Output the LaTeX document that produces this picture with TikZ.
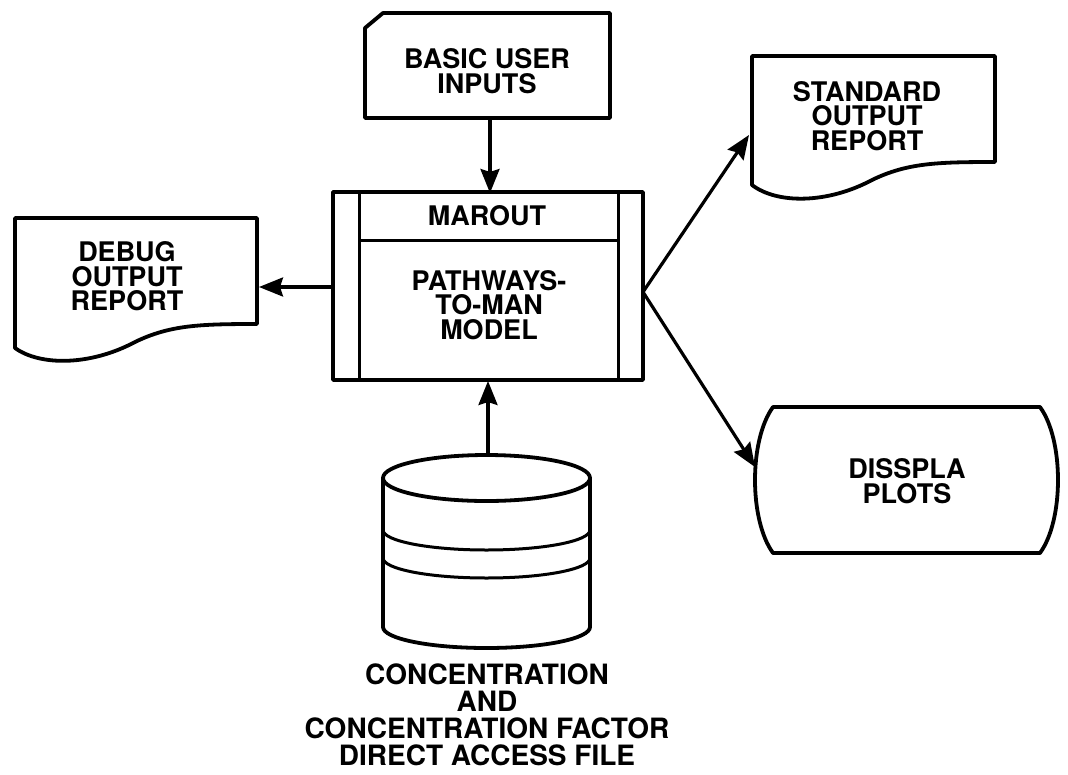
\documentclass[tikz,border=0pt]{standalone}
\usepackage{fontspec}
\setmainfont{TeX Gyre Heros}
\usetikzlibrary{arrows.meta}
\begin{document}
\begin{tikzpicture}[x=1pt,y=-1pt,
  outline/.style={line width=3.8pt, line join=round, line cap=round},
  thinline/.style={line width=3pt},
  conn/.style={line width=3.2pt, -{Stealth[length=24pt,width=19pt,inset=3pt]}},
  lbl/.style={font=\fontsize{27}{24.5}\selectfont\bfseries, align=center, inner sep=0pt},
  lblbig/.style={font=\fontsize{28}{27}\selectfont\bfseries, align=center, inner sep=0pt}]
\useasboundingbox (0,0) rectangle (1068,774);

% input card with clipped corner
\draw[outline] (365,118) -- (365,28) -- (383,13) -- (610,13) -- (610,118) -- cycle;
\node[lbl] (inputs) at (487,71) {BASIC USER\\INPUTS};

% central program block
\draw[outline] (333,192) rectangle (643,380);
\draw[thinline] (359,192) -- (359,380);
\draw[thinline] (618,192) -- (618,380);
\draw[thinline] (359,240) -- (618,240);
\node[lbl] (marout) at (487,215.5) {MAROUT};
\node[lbl] (model) at (489,305) {PATHWAYS-\\TO-MAN\\MODEL};

% debug output document
\draw[outline] (15,348) -- (15,218) -- (257,218) -- (257,324)
  .. controls (200,324) and (170,325) .. (135,342)
  .. controls (90,366) and (40,366) .. cycle;
\node[lbl] (debug) at (127,276.5) {DEBUG\\OUTPUT\\REPORT};

% standard output document
\draw[outline] (752,185) -- (752,56) -- (995,56) -- (995,162)
  .. controls (937,162) and (907,163) .. (872,180)
  .. controls (827,204) and (777,204) .. cycle;
\node[lbl] (standard) at (867,116) {STANDARD\\OUTPUT\\REPORT};

% plot display
\draw[outline] (773,407) -- (1040,407)
  .. controls (1064,440) and (1064,520) .. (1040,553)
  -- (773,553)
  .. controls (749,520) and (749,440) .. cycle;
\node[lbl] (plots) at (907,481) {DISSPLA\\PLOTS};

% direct access file (disk)
\draw[outline] (383,478) -- (383,627) arc[start angle=180, end angle=0, x radius=103.5, y radius=21] -- (590,478);
\draw[outline] (486.5,478) ellipse[x radius=103.5, y radius=23];
\draw[thinline] (383,530) arc[start angle=180, end angle=0, x radius=103.5, y radius=20];
\draw[thinline] (383,558) arc[start angle=180, end angle=0, x radius=103.5, y radius=20];
\node[lblbig] (file) at (487,714.5) {CONCENTRATION\\AND\\CONCENTRATION FACTOR\\DIRECT ACCESS FILE};

% connection points
\coordinate (inBot) at (490,118);
\coordinate (mainTop) at (490,193);
\coordinate (mainLeft) at (333,287);
\coordinate (debugRight) at (259,287);
\coordinate (mainRight) at (643,292);
\coordinate (stdLeft) at (749,135);
\coordinate (plotLeft) at (755,467);
\coordinate (diskTop) at (488,455);
\coordinate (mainBot) at (488,381);

\draw[conn] (inBot) -- (mainTop);
\draw[conn] (mainLeft) -- (debugRight);
\draw[conn] (mainRight) -- (stdLeft);
\draw[conn] (mainRight) -- (plotLeft);
\draw[conn] (diskTop) -- (mainBot);
\end{tikzpicture}
\end{document}
